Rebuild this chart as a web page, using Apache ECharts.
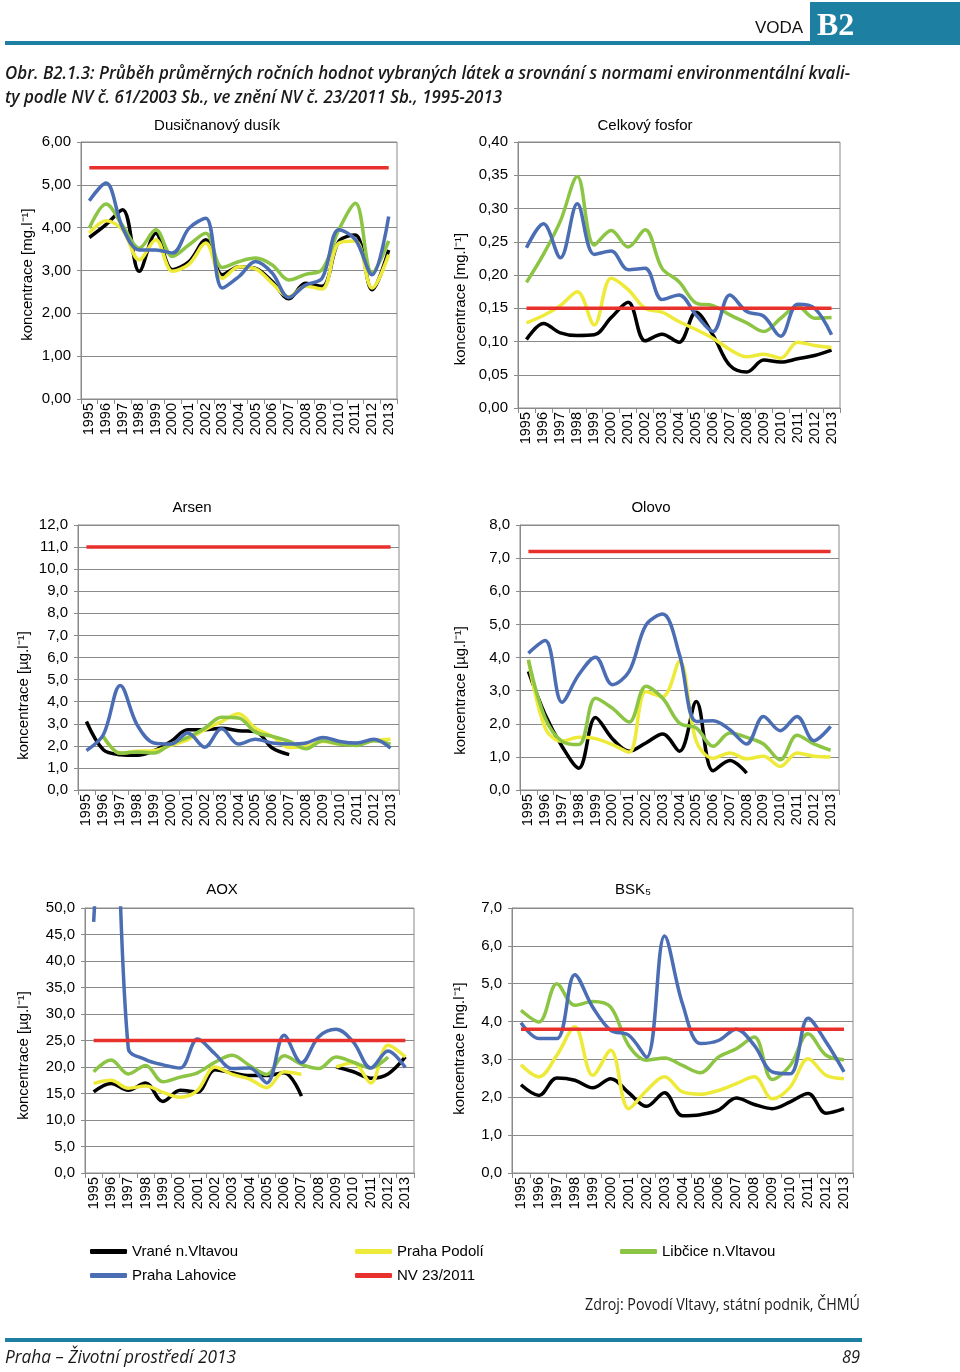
<!DOCTYPE html>
<html><head><meta charset="utf-8">
<script src="https://cdn.jsdelivr.net/npm/echarts@6/dist/echarts.min.js"></script>
<style>html,body{margin:0;padding:0;background:#fff}#c{width:960px;height:1372px}</style>
</head><body><div id="c"></div>
<script>
// ---- categories & names ----
const years = ['1995','1996','1997','1998','1999','2000','2001','2002','2003','2004','2005','2006','2007','2008','2009','2010','2011','2012','2013'];
const stationVrane = 'Vrané n.Vltavou';
const stationPodoli = 'Praha Podolí';
const stationLibcice = 'Libčice n.Vltavou';
const stationLahovice = 'Praha Lahovice';
const normName = 'NV 23/2011';

// ---- Dusičnanový dusík [mg/l] ----
const dusik_vrane    = [3.77,4.07,4.42,2.98,3.87,3.02,3.21,3.72,2.90,3.09,3.05,2.74,2.34,2.70,2.63,3.68,3.83,2.55,3.48];
const dusik_podoli   = [3.87,4.16,3.95,3.25,3.72,2.98,3.15,3.64,2.82,3.09,3.04,2.70,2.39,2.63,2.57,3.64,3.69,2.59,3.37];
const dusik_libcice  = [3.99,4.55,4.05,3.52,3.95,3.33,3.60,3.87,3.07,3.21,3.29,3.13,2.78,2.91,3.02,3.95,4.57,2.94,3.69];
const dusik_lahovice = [4.63,5.04,4.00,3.48,3.48,3.41,3.99,4.22,2.59,2.86,3.21,2.94,2.37,2.66,2.82,3.95,3.72,2.90,4.26];
const dusik_norm     = [5.4,5.4,5.4,5.4,5.4,5.4,5.4,5.4,5.4,5.4,5.4,5.4,5.4,5.4,5.4,5.4,5.4,5.4,5.4];

// ---- Celkový fosfor [mg/l] ----
const fosfor_vrane    = [0.103,0.127,0.113,0.109,0.110,0.136,0.159,0.101,0.111,0.099,0.144,0.110,0.064,0.054,0.072,0.069,0.074,0.079,0.087];
const fosfor_podoli   = [0.128,0.139,0.154,0.175,0.125,0.195,0.178,0.150,0.144,0.130,0.118,0.105,0.088,0.077,0.081,0.075,0.099,0.094,0.091];
const fosfor_libcice  = [0.189,0.231,0.281,0.348,0.245,0.267,0.242,0.268,0.210,0.190,0.158,0.154,0.140,0.128,0.115,0.135,0.153,0.135,0.136];
const fosfor_lahovice = [0.241,0.277,0.226,0.307,0.231,0.236,0.208,0.210,0.163,0.170,0.140,0.115,0.170,0.145,0.138,0.108,0.156,0.150,0.110];
const fosfor_norm     = [0.15,0.15,0.15,0.15,0.15,0.15,0.15,0.15,0.15,0.15,0.15,0.15,0.15,0.15,0.15,0.15,0.15,0.15,0.15];

// ---- Arsen [µg/l] ----
const arsen_vrane    = [3.10,1.82,1.60,1.57,1.78,2.20,2.73,2.73,2.80,2.68,2.65,1.90,1.60,null,null,null,null,null,null];
const arsen_podoli   = [null,2.40,1.67,1.75,1.78,2.02,2.28,2.73,3.10,3.45,2.80,2.43,1.93,1.97,2.20,2.08,2.08,2.23,2.30];
const arsen_libcice  = [null,2.43,1.67,1.72,1.67,2.08,2.38,2.80,3.29,3.26,2.62,2.43,2.20,1.87,2.23,2.08,2.02,2.23,2.08];
const arsen_lahovice = [1.79,2.50,4.73,2.95,2.13,2.08,2.58,1.94,2.77,2.08,2.30,2.13,2.08,2.13,2.38,2.20,2.13,2.30,1.90];
const arsen_norm     = [11,11,11,11,11,11,11,11,11,11,11,11,11,11,11,11,11,11,11];

// ---- Olovo [µg/l] ----
const olovo_vrane    = [3.58,2.27,1.32,0.66,2.19,1.55,1.17,1.42,1.69,1.17,2.67,0.58,0.89,0.51,null,null,null,null,null];
const olovo_podoli   = [3.93,1.87,1.47,1.59,1.55,1.37,1.14,2.97,2.82,3.88,1.47,0.96,1.12,0.94,1.02,0.71,1.12,1.02,1.00];
const olovo_libcice  = [3.93,2.17,1.47,1.37,2.77,2.47,2.05,3.13,2.77,2.02,1.87,1.32,1.72,1.59,1.39,0.91,1.65,1.39,1.20];
const olovo_lahovice = [4.13,4.51,2.65,3.48,4.01,3.18,3.58,4.98,5.31,4.08,2.07,2.09,1.82,1.39,2.22,1.79,2.22,1.49,1.92];
const olovo_norm     = [7.2,7.2,7.2,7.2,7.2,7.2,7.2,7.2,7.2,7.2,7.2,7.2,7.2,7.2,7.2,7.2,7.2,7.2,7.2];

// ---- AOX [µg/l] ----
const aox_vrane    = [15.3,16.9,15.6,17.0,13.5,15.6,15.3,19.5,18.9,18.4,18.4,18.9,14.5,null,20.0,19.1,17.9,18.7,21.9];
const aox_podoli   = [16.9,17.5,16.0,16.4,15.2,14.3,15.6,20.0,18.6,17.7,16.1,19.1,18.6,null,20.0,20.8,17.0,24.1,21.9];
const aox_libcice  = [19.1,21.3,18.7,20.3,17.2,18.1,18.9,20.9,22.2,20.3,18.6,22.1,20.5,19.7,21.9,20.9,19.8,21.9,null];
const aox_lahovice = [47.4,90.0,23.5,21.4,20.4,19.8,25.3,22.5,19.7,19.8,17.0,26.0,20.8,25.7,27.1,24.7,19.8,23.0,19.9];
const aox_norm     = [25,25,25,25,25,25,25,25,25,25,25,25,25,25,25,25,25,25,25];

// ---- BSK5 [mg/l] ----
const bsk_vrane    = [2.33,2.05,2.51,2.45,2.25,2.49,2.12,1.76,2.12,1.51,1.54,1.66,1.98,1.81,1.70,1.88,2.10,1.58,1.70];
const bsk_podoli   = [2.86,2.54,3.11,3.86,2.58,3.24,1.70,2.18,2.54,2.14,2.08,2.18,2.36,2.54,1.96,2.27,3.02,2.58,2.49];
const bsk_libcice  = [4.30,3.99,5.00,4.43,4.53,4.38,3.37,2.98,3.04,2.84,2.65,3.06,3.28,3.59,2.47,2.84,3.68,3.11,2.99];
const bsk_lahovice = [3.97,3.55,3.55,5.24,4.38,3.77,3.64,3.06,6.26,4.47,3.42,3.50,3.80,3.37,2.67,2.62,4.09,3.46,2.67];
const bsk_norm     = [3.8,3.8,3.8,3.8,3.8,3.8,3.8,3.8,3.8,3.8,3.8,3.8,3.8,3.8,3.8,3.8,3.8,3.8,3.8];

// ---- titles & texts ----
const chartTitles = ['Dusičnanový dusík','Celkový fosfor','Arsen','Olovo','AOX','BSK₅'];
const unitMg = 'koncentrace [mg.l⁻¹]';
const unitUg = 'koncentrace [µg.l⁻¹]';
const captionLine1 = 'Obr. B2.1.3: Průběh průměrných ročních hodnot vybraných látek a srovnání s normami environmentální kvali-';
const captionLine2 = 'ty podle NV č. 61/2003 Sb., ve znění NV č. 23/2011 Sb., 1995-2013';
const sourceText = 'Zdroj: Povodí Vltavy, státní podnik, ČHMÚ';
const footerText = 'Praha – Životní prostředí 2013';
const pageNumber = '89';

// ---- layout (positions / styles) ----
const COLORS = {vrane:'#000000', podoli:'#eeea3a', libcice:'#8cc444', lahovice:'#4a6db4', norm:'#e8302c'};
const TEAL = '#1d7fa1';
const FONT = 'Arial, "Liberation Sans", Helvetica, sans-serif';
const CAPFONT = '"Open Sans", "Noto Sans", sans-serif';

function fitScale(text, font, target) {
  const ctx = document.createElement('canvas').getContext('2d');
  ctx.font = font;
  const w = ctx.measureText(text).width;
  return w > 0 ? target / w : 1;
}
function fittedText(text, x, y, size, style, weight, target, align) {
  const font = style + ' ' + weight + ' ' + size + 'px ' + CAPFONT;
  const s = fitScale(text, font, target);
  return {type:'text', x:x, y:y, scaleX:s, style:{text:text, fontFamily:CAPFONT, fontStyle:style, fontWeight:weight,
    fontSize:size, fill:'#1a1a1a', align:align, verticalAlign:'middle'}};
}

const charts = [
  {data:[dusik_vrane,dusik_podoli,dusik_libcice,dusik_lahovice,dusik_norm], max:6, interval:1, dec:2, unit:unitMg,
   grid:{left:81,top:142,width:316,height:257}, title:{x:217,y:118}, nameGap:46, nameShift:4},
  {data:[fosfor_vrane,fosfor_podoli,fosfor_libcice,fosfor_lahovice,fosfor_norm], max:0.4, interval:0.05, dec:2, unit:unitMg,
   grid:{left:518,top:142,width:322,height:266}, title:{x:645,y:118}, nameGap:50, nameShift:24},
  {data:[arsen_vrane,arsen_podoli,arsen_libcice,arsen_lahovice,arsen_norm], max:12, interval:1, dec:1, unit:unitUg,
   grid:{left:78,top:525,width:321,height:265}, title:{x:192,y:500}, nameGap:47, nameShift:38},
  {data:[olovo_vrane,olovo_podoli,olovo_libcice,olovo_lahovice,olovo_norm], max:8, interval:1, dec:1, unit:unitUg,
   grid:{left:520,top:525,width:319,height:265}, title:{x:651,y:500}, nameGap:52, nameShift:33},
  {data:[aox_vrane,aox_podoli,aox_libcice,aox_lahovice,aox_norm], max:50, interval:5, dec:1, unit:unitUg,
   grid:{left:85,top:908,width:329,height:265}, title:{x:222,y:882}, nameGap:54, nameShift:15},
  {data:[bsk_vrane,bsk_podoli,bsk_libcice,bsk_lahovice,bsk_norm], max:7, interval:1, dec:1, unit:unitMg,
   grid:{left:512,top:908,width:341,height:265}, title:{x:633,y:882}, nameGap:45, nameShift:8}
];
const seriesNames = [stationVrane, stationPodoli, stationLibcice, stationLahovice, normName];
const seriesColors = [COLORS.vrane, COLORS.podoli, COLORS.libcice, COLORS.lahovice, COLORS.norm];

const grid = [], xAxis = [], yAxis = [], series = [], title = [];
charts.forEach((c, i) => {
  grid.push(Object.assign({show:true, borderColor:'#8a8a8a', borderWidth:1, backgroundColor:'transparent'}, c.grid));
  title.push({text: chartTitles[i], left: c.title.x, top: c.title.y, textAlign:'center', padding:0,
    textStyle:{fontFamily:FONT, fontSize:15, fontWeight:'normal', color:'#000'}});
  xAxis.push({type:'category', gridIndex:i, data:years, boundaryGap:true,
    axisLine:{lineStyle:{color:'#8a8a8a', width:1}},
    axisTick:{show:true, length:5, lineStyle:{color:'#8a8a8a'}},
    axisLabel:{rotate:90, interval:0, fontSize:14.5, fontFamily:FONT, color:'#000', margin:4},
    splitLine:{show:false}});
  yAxis.push({type:'value', gridIndex:i, min:0, max:c.max, interval:c.interval,
    name:c.unit, nameLocation:'middle', nameRotate:90, nameGap:c.nameGap,
    nameTextStyle:{fontFamily:FONT, fontSize:15, color:'#000', padding:[0, 2*c.nameShift, 0, 0]},
    axisLine:{show:true, lineStyle:{color:'#8a8a8a', width:1}},
    axisTick:{show:true, length:4, lineStyle:{color:'#8a8a8a'}},
    splitLine:{show:true, lineStyle:{color:'#8a8a8a', width:1}},
    axisLabel:{fontSize:15, fontFamily:FONT, color:'#000', margin:10,
      formatter: v => v.toFixed(c.dec).replace('.', ',')}});
  c.data.forEach((arr, k) => {
    series.push({type:'line', name:seriesNames[k], xAxisIndex:i, yAxisIndex:i, data:arr,
      smooth:0.35, showSymbol:false, symbol:'none', connectNulls:false, clip:true,
      lineStyle:{color:seriesColors[k], width:3.5}, itemStyle:{color:seriesColors[k]},
      silent:true, z: 2 + k});
  });
});

const legendBase = {orient:'horizontal', icon:'roundRect', itemWidth:37, itemHeight:5, padding:0, itemGap:10,
  textStyle:{fontFamily:FONT, fontSize:15, color:'#000'}, selectedMode:false};
const legend = [
  Object.assign({}, legendBase, {data:[stationVrane], left:90, top:1244}),
  Object.assign({}, legendBase, {data:[stationPodoli], left:355, top:1244}),
  Object.assign({}, legendBase, {data:[stationLibcice], left:620, top:1244}),
  Object.assign({}, legendBase, {data:[stationLahovice], left:90, top:1268}),
  Object.assign({}, legendBase, {data:[normName], left:355, top:1268})
];

const graphic = [
  {type:'rect', shape:{x:5, y:41, width:806, height:4}, style:{fill:TEAL}, silent:true},
  {type:'rect', shape:{x:810, y:2, width:150, height:43}, style:{fill:TEAL}, silent:true},
  {type:'text', x:779, y:28, style:{text:'VODA', fontFamily:FONT, fontSize:17, fill:'#111', align:'center', verticalAlign:'middle'}},
  {type:'text', x:817, y:27, style:{text:'B2', fontFamily:'"Liberation Serif","DejaVu Serif",serif', fontWeight:'bold', fontSize:32, fill:'#fff', align:'left', verticalAlign:'middle'}},
  fittedText(captionLine1, 5, 74, 18, 'italic', '600', 845, 'left'),
  fittedText(captionLine2, 5, 98, 18, 'italic', '600', 497, 'left'),
  fittedText(sourceText, 860, 1305, 16, 'normal', '400', 275, 'right'),
  {type:'rect', shape:{x:5, y:1338, width:857, height:4}, style:{fill:TEAL}, silent:true},
  fittedText(footerText, 5, 1358, 19, 'italic', '400', 231, 'left'),
  fittedText(pageNumber, 860, 1358, 19, 'italic', '400', 18, 'right')
];

const chart = echarts.init(document.getElementById('c'), null, {renderer:'canvas', width:960, height:1372});
chart.setOption({animation:false, backgroundColor:'#fff', title, grid, xAxis, yAxis, series, legend, graphic});
</script></body></html>
